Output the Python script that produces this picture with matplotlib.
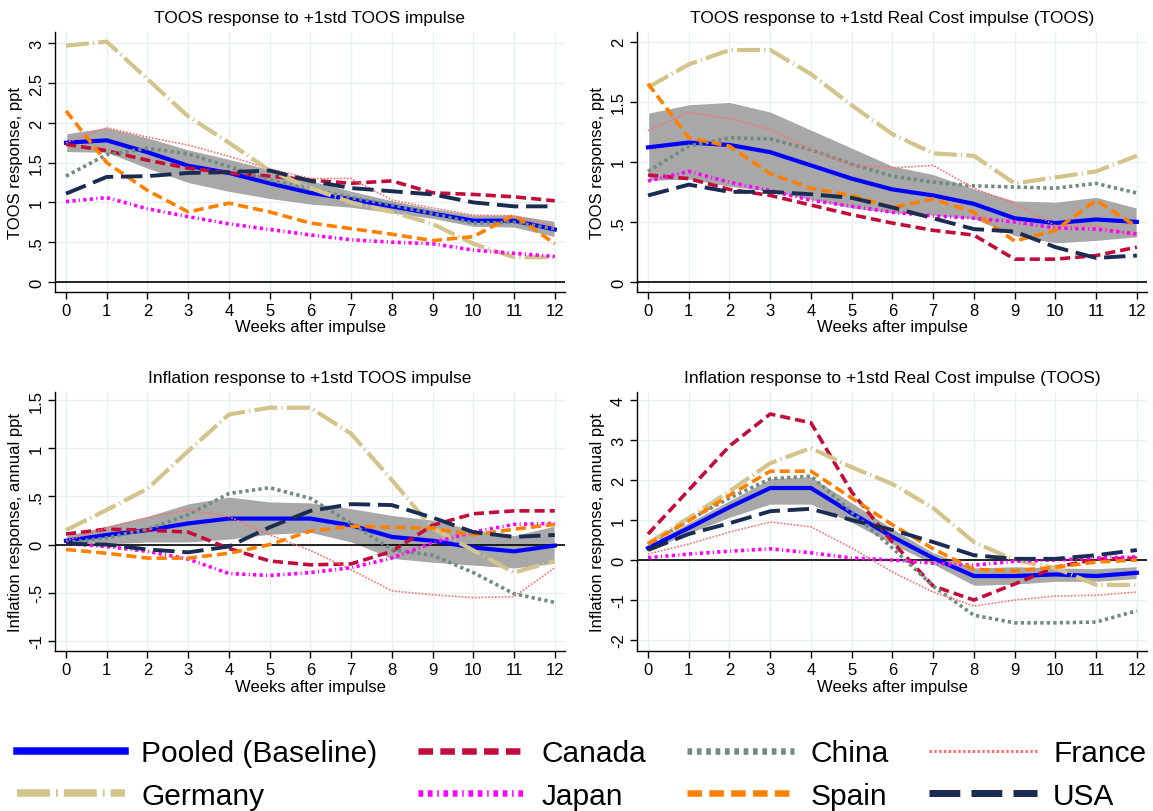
import matplotlib
matplotlib.use('Agg')
import matplotlib.pyplot as plt
from matplotlib.lines import Line2D
from matplotlib.ticker import FuncFormatter

plt.rcParams['font.family'] = ['Liberation Sans', 'DejaVu Sans']

weeks = list(range(13))

# Panel 1: TOOS response to +1std TOOS impulse
p1_pooled = [1.75, 1.78, 1.63, 1.46, 1.37, 1.24, 1.12, 1.04, 0.95, 0.86, 0.77, 0.77, 0.66]
p1_hi = [1.87, 1.95, 1.82, 1.67, 1.55, 1.42, 1.28, 1.15, 1.03, 0.93, 0.85, 0.85, 0.77]
p1_lo = [1.63, 1.62, 1.42, 1.24, 1.13, 1.04, 0.97, 0.93, 0.86, 0.79, 0.69, 0.68, 0.56]
p1_canada = [1.73, 1.65, 1.53, 1.43, 1.37, 1.33, 1.28, 1.24, 1.27, 1.12, 1.10, 1.07, 1.02]
p1_china = [1.33, 1.60, 1.68, 1.61, 1.45, 1.28, 1.17, 1.06, 0.97, 0.86, 0.74, 0.75, 0.67]
p1_france = [1.75, 1.94, 1.82, 1.72, 1.58, 1.42, 1.30, 1.30, 1.03, 0.93, 0.84, 0.83, 0.70]
p1_germany = [2.97, 3.02, 2.55, 2.08, 1.75, 1.40, 1.18, 1.00, 0.88, 0.73, 0.48, 0.31, 0.31]
p1_japan = [1.01, 1.06, 0.92, 0.82, 0.73, 0.66, 0.59, 0.53, 0.50, 0.48, 0.40, 0.36, 0.32]
p1_spain = [2.15, 1.50, 1.15, 0.88, 0.99, 0.88, 0.74, 0.67, 0.60, 0.52, 0.57, 0.84, 0.48]
p1_usa = [1.11, 1.32, 1.33, 1.37, 1.38, 1.40, 1.27, 1.18, 1.14, 1.10, 1.00, 0.95, 0.95]

# Panel 2: TOOS response to +1std Real Cost impulse
p2_pooled = [1.12, 1.16, 1.14, 1.08, 0.97, 0.86, 0.77, 0.72, 0.65, 0.53, 0.49, 0.52, 0.50]
p2_hi = [1.41, 1.48, 1.50, 1.42, 1.27, 1.12, 0.97, 0.90, 0.78, 0.68, 0.67, 0.71, 0.62]
p2_lo = [0.84, 0.85, 0.79, 0.75, 0.68, 0.61, 0.57, 0.55, 0.52, 0.38, 0.32, 0.34, 0.37]
p2_canada = [0.89, 0.86, 0.77, 0.72, 0.64, 0.56, 0.49, 0.43, 0.39, 0.19, 0.19, 0.22, 0.29]
p2_china = [0.92, 1.13, 1.20, 1.19, 1.10, 0.98, 0.88, 0.83, 0.80, 0.79, 0.78, 0.82, 0.74]
p2_france = [1.26, 1.41, 1.36, 1.27, 1.10, 0.97, 0.95, 0.97, 0.78, 0.65, 0.47, 0.47, 0.38]
p2_germany = [1.62, 1.81, 1.93, 1.93, 1.73, 1.47, 1.23, 1.07, 1.05, 0.82, 0.87, 0.92, 1.05]
p2_japan = [0.84, 0.92, 0.83, 0.76, 0.68, 0.63, 0.58, 0.55, 0.53, 0.50, 0.45, 0.44, 0.40]
p2_spain = [1.65, 1.20, 1.13, 0.90, 0.78, 0.72, 0.62, 0.69, 0.58, 0.34, 0.43, 0.68, 0.46]
p2_usa = [0.72, 0.81, 0.75, 0.75, 0.73, 0.70, 0.62, 0.53, 0.44, 0.42, 0.29, 0.20, 0.22]

# Panel 3: Inflation response to +1std TOOS impulse
p3_pooled = [0.04, 0.10, 0.15, 0.22, 0.27, 0.27, 0.27, 0.20, 0.08, 0.04, -0.03, -0.07, -0.01]
p3_hi = [0.10, 0.20, 0.30, 0.43, 0.50, 0.45, 0.44, 0.38, 0.31, 0.26, 0.16, 0.10, 0.20]
p3_lo = [-0.02, 0.00, 0.02, 0.02, 0.05, 0.10, 0.12, 0.02, -0.15, -0.19, -0.22, -0.25, -0.20]
p3_canada = [0.11, 0.16, 0.15, 0.13, -0.04, -0.17, -0.21, -0.20, -0.07, 0.20, 0.32, 0.35, 0.35]
p3_china = [0.02, 0.07, 0.16, 0.31, 0.53, 0.59, 0.48, 0.22, -0.05, -0.11, -0.29, -0.51, -0.60]
p3_france = [0.04, 0.17, 0.28, 0.36, 0.29, 0.10, -0.06, -0.26, -0.48, -0.52, -0.55, -0.54, -0.24]
p3_germany = [0.15, 0.36, 0.58, 0.97, 1.35, 1.42, 1.42, 1.15, 0.67, 0.17, -0.06, -0.29, -0.17]
p3_japan = [0.01, -0.02, -0.07, -0.15, -0.30, -0.32, -0.29, -0.24, -0.14, 0.02, 0.13, 0.21, 0.22]
p3_spain = [-0.05, -0.09, -0.14, -0.14, -0.09, 0.00, 0.14, 0.19, 0.18, 0.17, 0.10, 0.16, 0.21]
p3_usa = [0.01, 0.00, -0.05, -0.08, -0.02, 0.18, 0.35, 0.42, 0.41, 0.28, 0.13, 0.08, 0.10]

# Panel 4: Inflation response to +1std Real Cost impulse
p4_pooled = [0.30, 0.80, 1.32, 1.80, 1.80, 1.17, 0.58, 0.05, -0.40, -0.40, -0.36, -0.40, -0.32]
p4_hi = [0.38, 0.95, 1.50, 2.05, 2.10, 1.45, 0.80, 0.20, -0.18, -0.15, -0.18, -0.20, -0.15]
p4_lo = [0.22, 0.65, 1.05, 1.38, 1.38, 0.92, 0.38, -0.12, -0.65, -0.62, -0.55, -0.55, -0.48]
p4_canada = [0.65, 1.75, 2.85, 3.65, 3.43, 1.70, 0.45, -0.65, -1.00, -0.60, -0.18, 0.02, 0.05]
p4_china = [0.38, 1.00, 1.55, 2.03, 2.10, 1.20, 0.30, -0.65, -1.38, -1.57, -1.57, -1.55, -1.27]
p4_france = [0.15, 0.40, 0.70, 0.95, 0.83, 0.30, -0.30, -0.80, -1.15, -1.00, -0.90, -0.88, -0.80]
p4_germany = [0.42, 1.05, 1.72, 2.42, 2.80, 2.32, 1.90, 1.30, 0.45, 0.00, -0.20, -0.62, -0.62]
p4_japan = [0.06, 0.15, 0.22, 0.28, 0.18, 0.05, 0.00, -0.08, -0.13, -0.03, 0.00, 0.05, 0.08]
p4_spain = [0.40, 0.98, 1.62, 2.22, 2.22, 1.55, 0.88, 0.28, -0.23, -0.27, -0.18, -0.05, 0.00]
p4_usa = [0.25, 0.65, 0.92, 1.22, 1.28, 1.00, 0.75, 0.45, 0.12, 0.03, 0.03, 0.12, 0.25]

countries = ['Canada', 'China', 'France', 'Germany', 'Japan', 'Spain', 'USA']

# line styles (color, width, dash pattern)
styles = {
    'Pooled (Baseline)': dict(color='#0000ff', lw=3.0, ls='-'),
    'Canada': dict(color='#c20c3a', lw=2.6, ls=(0, (2.8, 1.4))),
    'China': dict(color='#6f8c7e', lw=2.6, ls=(0, (0.9, 0.9))),
    'France': dict(color='#ff6e6e', lw=1.2, ls=(0, (1.0, 1.0))),
    'Germany': dict(color='#d2c48a', lw=3.0, ls=(0, (5.5, 1.0, 0.3, 1.0))),
    'Japan': dict(color='#ff00ff', lw=2.6, ls=(0, (0.9, 0.9, 0.9, 0.9, 0.3, 0.9))),
    'Spain': dict(color='#ff8000', lw=2.6, ls=(0, (2.8, 1.4))),
    'USA': dict(color='#1b2c52', lw=2.8, ls=(0, (5.5, 2.0))),
}

panels = [
    ('TOOS response to +1std TOOS impulse', 'TOOS response, ppt',
     p1_pooled, p1_lo, p1_hi,
     [p1_canada, p1_china, p1_france, p1_germany, p1_japan, p1_spain, p1_usa],
     (-0.126, 3.142), [0, 0.5, 1, 1.5, 2, 2.5, 3]),
    ('TOOS response to +1std Real Cost impulse (TOOS)', 'TOOS response, ppt',
     p2_pooled, p2_lo, p2_hi,
     [p2_canada, p2_china, p2_france, p2_germany, p2_japan, p2_spain, p2_usa],
     (-0.083, 2.08), [0, 0.5, 1, 1.5, 2]),
    ('Inflation response to +1std TOOS impulse', 'Inflation response, annual ppt',
     p3_pooled, p3_lo, p3_hi,
     [p3_canada, p3_china, p3_france, p3_germany, p3_japan, p3_spain, p3_usa],
     (-1.104, 1.583), [-1, -0.5, 0, 0.5, 1, 1.5]),
    ('Inflation response to +1std Real Cost impulse (TOOS)', 'Inflation response, annual ppt',
     p4_pooled, p4_lo, p4_hi,
     [p4_canada, p4_china, p4_france, p4_germany, p4_japan, p4_spain, p4_usa],
     (-2.275, 4.2), [-2, -1, 0, 1, 2, 3, 4]),
]

positions = [
    [0.0477, 0.6392, 0.4423, 0.3202],
    [0.5525, 0.6392, 0.4423, 0.3202],
    [0.0477, 0.1970, 0.4423, 0.3190],
    [0.5525, 0.1970, 0.4423, 0.3190],
]


def stata_fmt(v, pos):
    s = ('%g' % round(v, 3))
    if s.startswith('0.'):
        s = s[1:]
    elif s.startswith('-0.'):
        s = '-' + s[2:]
    return s


fig = plt.figure(figsize=(11.53, 8.12), dpi=100)

for (title, ylabel, pooled, lo, hi, series, ylim, yticks), pos in zip(panels, positions):
    ax = fig.add_axes(pos)
    ax.set_xlim(-0.27, 12.25)
    ax.set_ylim(*ylim)
    ax.set_xticks(weeks)
    ax.set_yticks(yticks)
    ax.yaxis.set_major_formatter(FuncFormatter(stata_fmt))
    ax.grid(True, color='#e6eff1', lw=1.0, zorder=0)
    ax.set_axisbelow(True)
    for side in ['top', 'right']:
        ax.spines[side].set_visible(False)
    for side in ['left', 'bottom']:
        ax.spines[side].set_linewidth(1.0)
    ax.tick_params(axis='both', labelsize=12, length=5, width=1, pad=3)
    for lab in ax.get_yticklabels():
        lab.set_rotation(90)
        lab.set_va('center')

    ax.fill_between(weeks, lo, hi, color='#a8a8a8', edgecolor='white', lw=1.0, zorder=2)
    ax.axhline(0, color='black', lw=1.2, zorder=2.5)
    st = styles['Pooled (Baseline)']
    ax.plot(weeks, pooled, color=st['color'], lw=st['lw'], ls=st['ls'], zorder=3)
    for name, vals in zip(countries, series):
        st = styles[name]
        ax.plot(weeks, vals, color=st['color'], lw=st['lw'], ls=st['ls'], zorder=4)

    ax.set_title(title, fontsize=12.5, pad=7)
    ax.set_xlabel('Weeks after impulse', fontsize=12, labelpad=1)
    ax.set_ylabel(ylabel, fontsize=12, labelpad=4)


def legend_ls(ls, k):
    # thicker legend lines, with the dash pattern shrunk so it keeps its look
    if isinstance(ls, str):
        return ls
    return (0, tuple(v * k for v in ls[1]))


# legend, filled row-wise like the original
order = ['Pooled (Baseline)', 'Germany', 'Canada', 'Japan', 'China', 'Spain', 'France', 'USA']
handles = []
for name in order:
    st = styles[name]
    handles.append(Line2D([], [], color=st['color'], lw=st['lw'] * 1.8,
                          ls=legend_ls(st['ls'], 0.8)))
fig.legend(handles, order, loc='center', bbox_to_anchor=(0.5045, 0.045), ncol=4,
           frameon=False, fontsize=21.5, handlelength=3.6, handletextpad=0.55,
           columnspacing=1.35, labelspacing=0.5)

fig.savefig('out.png', dpi=100)
